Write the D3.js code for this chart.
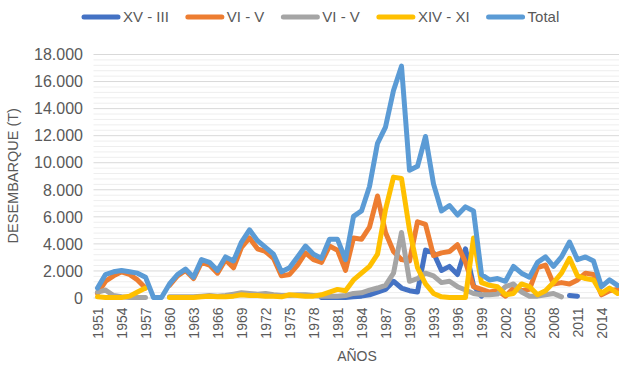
<!DOCTYPE html>
<html>
<head>
<meta charset="utf-8">
<script src="https://cdn.jsdelivr.net/npm/d3@7"></script>
<style>
  html, body { margin: 0; padding: 0; background: #fff; }
  svg { display: block; font-family: "Liberation Sans", Arial, sans-serif; }
</style>
</head>
<body>
<svg id="chart" width="619" height="365"></svg>
<script>
// Yearly landings (t) per zone, 1951-2016
const years = d3.range(1951, 2017);

const seriesNames = ["XV - III", "VI - V", "VI - V", "XIV - XI", "Total"];
const seriesColors = ["#4472C4", "#ED7D31", "#A5A5A5", "#FFC000", "#5B9BD5"];

const xvIII = [
  null, null, null, null, null, null, null, null, null, null,
  null, null, null, null, null, null, null, null, null, null,
  null, null, null, null, null, null, null, null, 0, 0,
  0, 0, 50, 100, 200, 400, 600, 1200, 700, 500,
  400, 3500, 3300, 2000, 2300, 1700, 3600, 900, 100, null,
  null, null, null, null, null, null, null, null, null, 150,
  100, null, null, null, null, null
];

const viV1 = [
  300, 1200, 1600, 1900, 1700, 1300, 700, null, null, 900,
  1600, 2000, 1400, 2600, 2400, 1800, 2800, 2200, 3700, 4400,
  3600, 3400, 2900, 1600, 1700, 2400, 3300, 2800, 2600, 3800,
  3500, 2000, 4400, 4300, 5200, 7500, 4800, 3400, 2800, 2700,
  5600, 5400, 3100, 3300, 3400, 3900, 2600, 800, 600, 400,
  500, 100, 700, 500, 600, 2200, 2400, 1000, 1100, 1000,
  1300, 1800, 1700, 200, 500, 600
];

const viV2 = [
  400, 550, 150, 50, 0, 0, 0, null, null, 50,
  50, 50, 50, 100, 150, 100, 150, 250, 350, 300,
  250, 300, 200, 150, 150, 200, 200, 150, 100, 100,
  100, 150, 300, 350, 550, 700, 900, 1800, 4800, 1200,
  1400, 1800, 1600, 1100, 1200, 800, 550, 300, 200, 200,
  250, 800, 1000, 400, 100, 100, 200, 300, 50, null,
  null, null, null, null, null, null
];

const xivXI = [
  50, 0, 0, 0, 100, 400, 700, null, null, 0,
  0, 0, 0, 50, 100, 50, 50, 100, 200, 150,
  150, 100, 100, 50, 200, 150, 100, 100, 200, 400,
  600, 500, 1300, 1800, 2300, 3200, 6500, 8900, 8800, 5000,
  2200, 1000, 300, 50, 0, 0, 0, 4400, 1100, 900,
  800, 200, 300, 1000, 800, 200, 500, 1100, 1800, 2900,
  1600, 1400, 1300, 300, 700, 300
];

const total = [
  700, 1700, 1900, 2000, 1900, 1800, 1500, 0, 0, 1000,
  1700, 2100, 1500, 2800, 2600, 2000, 3000, 2700, 4100, 5000,
  4200, 3700, 3200, 1900, 2200, 3000, 3800, 3200, 2900, 4300,
  4300, 2800, 6000, 6400, 8200, 11400, 12600, 15300, 17100, 9400,
  9700, 11900, 8400, 6400, 6800, 6100, 6700, 6400, 1700, 1300,
  1400, 1200, 2300, 1800, 1500, 2600, 3000, 2300, 3000, 4100,
  2800, 3000, 2700, 800, 1300, 900
];

const seriesValues = [xvIII, viV1, viV2, xivXI, total];

const yMajorTicks = d3.range(0, 18001, 2000);
const yMinorTicks = d3.range(0, 18001, 400).filter(v => v % 2000 !== 0);
const xTickYears = years.filter((d, i) => i % 3 === 0);

const svg = d3.select("#chart");
const plot = { left: 93.5, right: 621.5, top: 54, bottom: 297.5 };

const x = d3.scaleBand().domain(years).range([plot.left, plot.right]);
const y = d3.scaleLinear().domain([0, 18000]).range([plot.bottom, plot.top]);
const cx = yr => x(yr) + x.bandwidth() / 2;

const esNum = d3.formatLocale({ decimal: ",", thousands: ".", grouping: [3], currency: ["", ""] }).format(",");

// gridlines: faint minor every 400, major every 2000
svg.append("g")
  .attr("transform", `translate(${plot.left},0)`)
  .call(d3.axisLeft(y).tickValues(yMinorTicks).tickSize(-(plot.right - plot.left)).tickFormat(""))
  .call(g => g.select(".domain").remove())
  .call(g => g.selectAll("line").attr("stroke", "#eeeeee").attr("stroke-width", 1));

svg.append("g")
  .attr("transform", `translate(${plot.left},0)`)
  .call(d3.axisLeft(y).tickValues(yMajorTicks).tickSize(-(plot.right - plot.left)).tickFormat(""))
  .call(g => g.select(".domain").remove())
  .call(g => g.selectAll("line").attr("stroke", "#d9d9d9").attr("stroke-width", 1));

// y tick labels
svg.append("g")
  .attr("transform", "translate(83,0)")
  .call(d3.axisLeft(y).tickValues(yMajorTicks).tickSize(0).tickPadding(0).tickFormat(esNum))
  .call(g => g.select(".domain").remove())
  .call(g => g.selectAll("text")
    .attr("fill", "#595959")
    .style("font-size", "16px")
    .attr("dy", "0.36em"));

// x tick labels, rotated
svg.append("g")
  .attr("transform", `translate(0,${plot.bottom})`)
  .call(d3.axisBottom(x).tickValues(xTickYears).tickSize(0))
  .call(g => g.select(".domain").remove())
  .call(g => g.selectAll("text")
    .attr("fill", "#595959")
    .style("font-size", "14px")
    .attr("y", 0)
    .attr("x", -10)
    .attr("dy", "0.36em")
    .attr("transform", "rotate(-90)")
    .style("text-anchor", "end"));

// axis titles
svg.append("text")
  .attr("transform", `translate(18,${(plot.top + plot.bottom) / 2}) rotate(-90)`)
  .attr("text-anchor", "middle")
  .attr("fill", "#595959")
  .style("font-size", "14.5px")
  .text("DESEMBARQUE (T)");

svg.append("text")
  .attr("x", 357)
  .attr("y", 361)
  .attr("text-anchor", "middle")
  .attr("fill", "#595959")
  .style("font-size", "14px")
  .text("AÑOS");

// series lines
const line = d3.line()
  .defined(d => d.v !== null)
  .x(d => cx(d.year))
  .y(d => y(d.v));

seriesValues.forEach((vals, i) => {
  const pts = years.map((yr, j) => ({ year: yr, v: vals[j] }));
  svg.append("path")
    .datum(pts)
    .attr("fill", "none")
    .attr("stroke", seriesColors[i])
    .attr("stroke-width", 5)
    .attr("stroke-linejoin", "round")
    .attr("stroke-linecap", "round")
    .attr("d", line);
});

// legend
const legend = svg.append("g").attr("transform", "translate(0,17)");
let lx = 82;
seriesNames.forEach((name, i) => {
  const item = legend.append("g").attr("transform", `translate(${lx},0)`);
  item.append("line")
    .attr("x1", 2).attr("x2", 36).attr("y1", 0).attr("y2", 0)
    .attr("stroke", seriesColors[i]).attr("stroke-width", 5)
    .attr("stroke-linecap", "round");
  const t = item.append("text")
    .attr("x", 41).attr("dy", "0.36em")
    .attr("fill", "#595959")
    .style("font-size", "15px")
    .text(name);
  lx += 41 + t.node().getComputedTextLength() + 17;
});
</script>
</body>
</html>
